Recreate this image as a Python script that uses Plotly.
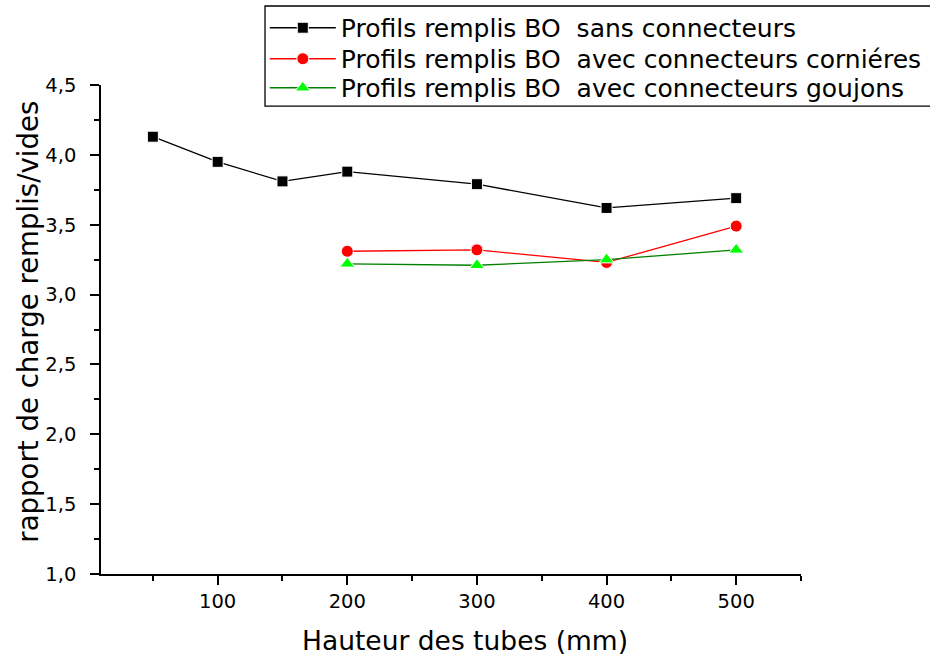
import plotly.graph_objects as go

x_sans = [50, 100, 150, 200, 300, 400, 500]
y_sans = [4.13, 3.95, 3.81, 3.88, 3.79, 3.62, 3.69]
x_corn = [200, 300, 400, 500]
y_corn = [3.31, 3.32, 3.23, 3.49]
x_gouj = [200, 300, 400, 500]
y_gouj = [3.22, 3.21, 3.25, 3.32]

names = ["Profils remplis BO\u00a0 sans connecteurs",
         "Profils remplis BO\u00a0 avec connecteurs corniéres",
         "Profils remplis BO\u00a0 avec connecteurs goujons"]
x_title = "Hauteur des tubes (mm)"
y_title = "rapport de charge remplis/vides"

WIDE = "DejaVu Sans"

fig = go.Figure()
fig.add_trace(go.Scatter(x=x_sans, y=y_sans, mode="lines+markers", name=names[0],
                         legend="legend",
                         line=dict(color="black", width=1.3),
                         marker=dict(symbol="square", size=11, color="black",
                                     line=dict(color="white", width=1))))
fig.add_trace(go.Scatter(x=x_corn, y=y_corn, mode="lines+markers", name=names[1],
                         legend="legend2",
                         line=dict(color="#ff0000", width=1.3),
                         marker=dict(symbol="circle", size=12, color="#ff0000",
                                     line=dict(color="white", width=1))))
fig.add_trace(go.Scatter(x=x_gouj, y=y_gouj, mode="lines+markers", name=names[2],
                         legend="legend3",
                         line=dict(color="#008000", width=1.3),
                         marker=dict(symbol="triangle-up", size=13, color="#00ff00",
                                     line=dict(color="white", width=1))))

axis_common = dict(showline=True, linecolor="black", linewidth=1.5, ticks="outside",
                   ticklen=9, tickwidth=1.5, tickcolor="black", showgrid=False,
                   zeroline=False, mirror=False,
                   tickfont=dict(family=WIDE, size=19.5, color="black"))

leg_common = dict(x=0.234, xanchor="left", yanchor="middle",
                  bgcolor="rgba(0,0,0,0)", borderwidth=0,
                  font=dict(size=25, family=WIDE), itemwidth=66)

fig.update_layout(
    width=930, height=657,
    paper_bgcolor="white", plot_bgcolor="white",
    margin=dict(l=101, r=129, t=85, b=83, autoexpand=False),
    separators=",.",
    font=dict(family=WIDE, color="black"),
    xaxis=dict(range=[10, 550], tickvals=[100, 200, 300, 400, 500],
               minor=dict(tickvals=[50, 150, 250, 350, 450, 550], ticks="outside",
                          ticklen=5, tickwidth=1.5, tickcolor="black"),
               ticklabelstandoff=0,
               **axis_common),
    yaxis=dict(range=[1.0, 4.5], tickvals=[1.0, 1.5, 2.0, 2.5, 3.0, 3.5, 4.0, 4.5],
               tickformat=".1f",
               minor=dict(tickvals=[1.25, 1.75, 2.25, 2.75, 3.25, 3.75, 4.25],
                          ticks="outside", ticklen=5, tickwidth=1.5, tickcolor="black"),
               ticklabelstandoff=10,
               **axis_common),
    legend=dict(y=1.1166, **leg_common),
    legend2=dict(y=1.0532, **leg_common),
    legend3=dict(y=0.9939, **leg_common),
    showlegend=True,
    shapes=[dict(type="rect", xref="paper", yref="paper",
                 x0=0.2343, x1=1.19, y0=0.957, y1=1.1616,
                 line=dict(color="black", width=1.3), fillcolor="white", layer="below")],
    annotations=[
        dict(text=x_title, xref="paper", yref="paper", x=0.52, y=-0.135,
             xanchor="center", yanchor="middle", showarrow=False,
             font=dict(size=26.5, family=WIDE, color="black")),
        dict(text=y_title, xref="paper", yref="paper", x=-0.1036, y=0.517,
             xanchor="center", yanchor="middle", showarrow=False, textangle=-90,
             font=dict(size=27.6, family=WIDE, color="black")),
    ],
)

fig.write_html("out.html", config={"displayModeBar": False},
               post_script="document.body.style.margin='0';")
